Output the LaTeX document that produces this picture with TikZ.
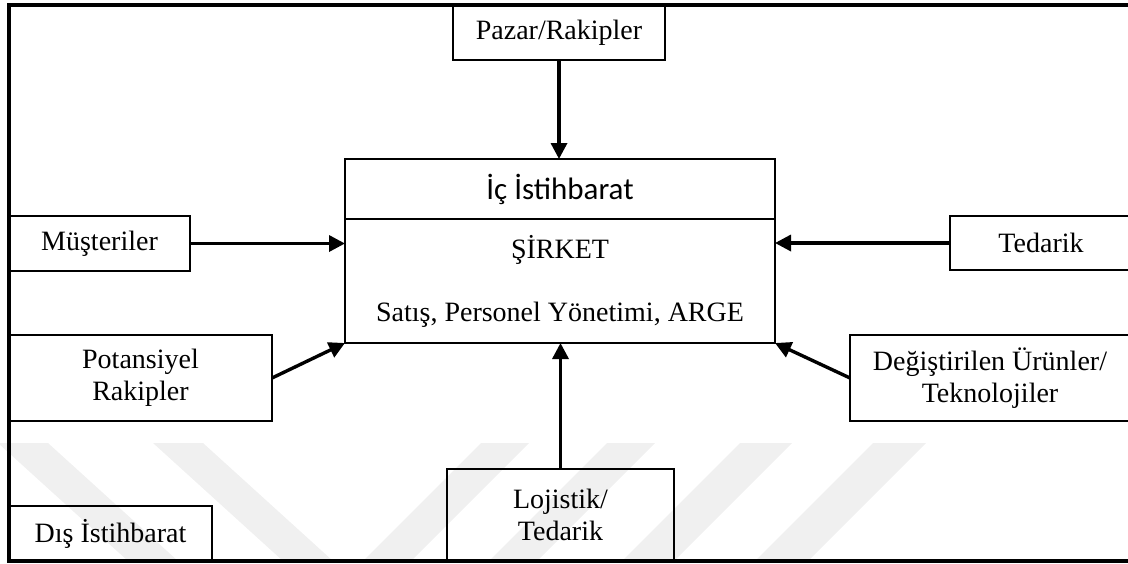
\documentclass[tikz,border=0pt]{standalone}
\usepackage{fontspec}
\setmainfont{Liberation Serif}
\newfontfamily\calibfont{Carlito}
\usetikzlibrary{arrows.meta}
\begin{document}
\begin{tikzpicture}[x=0.5pt,y=-0.5pt,
  box/.style={draw, line width=1.3pt, inner sep=0pt, outer sep=0pt, align=center,
              font=\fontsize{14}{16}\selectfont},
  arr/.style={line width=1.7pt, -{Triangle[length=8pt,width=8pt]}},
  wm/.style={fill=black!6, draw=none}]
\useasboundingbox (0,0) rectangle (1128,563);
\clip (0,0) rectangle (1128,563);
% watermark stripes
\fill[wm] (-2,443) -- (48,443) -- (178,561) -- (128,561) -- cycle;
\fill[wm] (153,443) -- (203,443) -- (333,561) -- (283,561) -- cycle;
\fill[wm] (481,443) -- (529,443) -- (411,561) -- (363,561) -- cycle;
\fill[wm] (607,443) -- (655,443) -- (537,561) -- (489,561) -- cycle;
\fill[wm] (740,443) -- (792,443) -- (674,561) -- (622,561) -- cycle;
\fill[wm] (873,443) -- (926,443) -- (808,561) -- (755,561) -- cycle;
% outer frame
\draw[line width=1.7pt] (9,5) rectangle (1131,561);
% nodes
\node[box, minimum width=106pt, minimum height=27pt] (pazar) at (559,33) {Pazar/Rakipler};
\node[box, minimum width=215pt, minimum height=30pt, font=\calibfont\fontsize{15.5}{18}\selectfont] (ic) at (560,189) {İç İstihbarat};
\node[box, minimum width=215pt, minimum height=62pt] (sirket) at (560,281) {ŞİRKET\\[15.5pt]Satış, Personel Yönetimi, ARGE};
\node[box, minimum width=90.5pt, minimum height=27.5pt] (must) at (99.5,243.5) {Müşteriler};
\node[box, minimum width=91pt, minimum height=27pt] (tedarik) at (1041,243) {Tedarik};
\node[box, minimum width=131.5pt, minimum height=43pt] (potan) at (140.5,378) {Potansiyel\\Rakipler};
\node[box, minimum width=140pt, minimum height=43pt] (degis) at (990,378) {Değiştirilen Ürünler/\\Teknolojiler};
\node[box, minimum width=101.5pt, minimum height=27.5pt] (dis) at (110.5,533.5) {Dış İstihbarat};
\node[box, minimum width=113.5pt, minimum height=46pt] (loj) at (560.5,515) {Lojistik/\\Tedarik};
% arrows
\draw[arr] (pazar.south) -- (pazar.south |- ic.north);
\draw[arr] (must.east) -- (must.east -| sirket.west);
\draw[arr] (tedarik.west) -- (tedarik.west -| sirket.east);
\draw[arr] (potan.east) -- (sirket.south west);
\draw[arr] (degis.west) -- (sirket.south east);
\draw[arr] (loj.north) -- (loj.north |- sirket.south);
\end{tikzpicture}
\end{document}
